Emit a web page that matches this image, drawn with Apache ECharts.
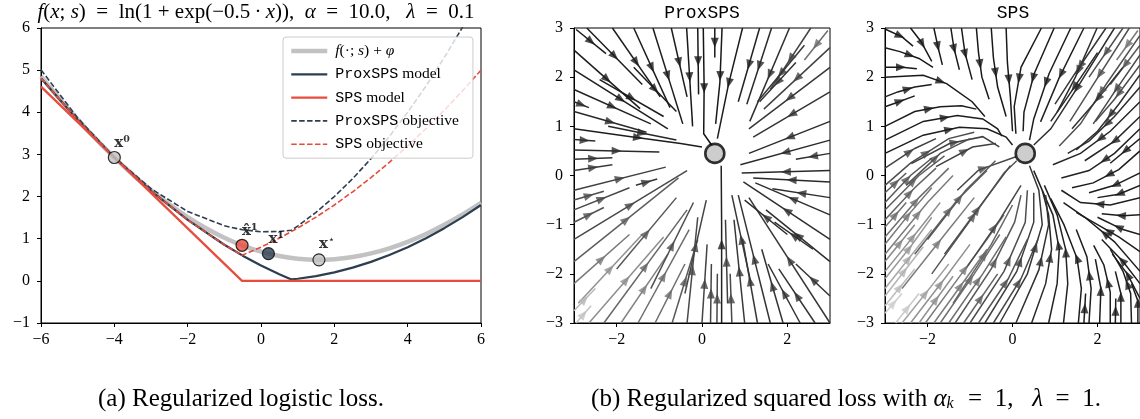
<!DOCTYPE html>
<html>
<head>
<meta charset="utf-8">
<script src="https://cdn.jsdelivr.net/npm/echarts@6/dist/echarts.min.js"></script>
<style>
html,body{margin:0;padding:0;background:#fff}
#main{width:1140px;height:419px}
</style>
</head>
<body>
<div id="main"></div>
<script>
// ---------- (a) logistic loss panel ----------
const xs = [-6,-5.5,-5,-4.5,-4,-3.5,-3,-2.5,-2,-1.5,-1,-0.5,0,0.5,1,1.5,2,2.5,3,3.5,4,4.5,5,5.5,6];
const fPhi = [4.849,4.325,3.829,3.363,2.927,2.523,2.151,1.814,1.513,1.249,1.024,0.838,0.693,0.588,0.524,0.499,0.513,0.564,0.651,0.773,0.927,1.113,1.329,1.574,1.849];

const proxX = [-6,-5,-4,-3,-2,-1,-0.5,0,0.5,0.83,1,1.5,2,2.5,3,3.5,4,4.5,5,5.5,6];
const proxModel = [4.808,3.817,2.927,2.137,1.446,0.856,0.598,0.365,0.158,0.034,0.05,0.113,0.2,0.313,0.45,0.613,0.8,1.013,1.25,1.513,1.8];
const proxObj = [5.008,3.867,2.927,2.187,1.646,1.306,1.211,1.165,1.171,1.2,1.3,1.625,2.0,2.425,2.9,3.425,4.0,4.625,5.3,6.025,6.8];

const spsX = [-6,-0.517,6];
const spsModel = [4.608,0,0];
const spsObjX = [-6,-5,-4,-3,-2,-1,-0.517,0,0.5,1,1.5,2,2.5,3,3.5,4,4.5,5,5.5,6];
const spsObj = [4.808,3.817,2.927,2.137,1.446,0.856,0.607,0.8,1.013,1.25,1.513,1.8,2.113,2.45,2.813,3.2,3.613,4.05,4.513,5.0];

const iterX = [-4,-0.517,0.202,1.58];
const iterY = [2.927,0.844,0.646,0.498];
const iterName = ['x0','xhat1','x1','xstar'];

// ---------- (b) streamlines (flow direction = point order) ----------
const fixedPoint = [0.3,0.45];

const proxLines = [
  [[-2.95,2.97],[-2.25,2.48]],
  [[-2.7,3.0],[-1.4,1.85]],
  [[-2.1,3.0],[-0.98,1.6]],
  [[-1.6,3.0],[-0.75,1.38]],
  [[-1.15,3.0],[-0.45,1.05]],
  [[-0.72,3.0],[-0.35,1.6]],
  [[-0.36,3.0],[-0.22,1.0]],
  [[-0.1,3.0],[-0.08,1.65]],
  [[0.03,3.0],[0.05,1.8],[0.04,0.85],[0.24,0.6]],
  [[0.3,3.0],[0.3,2.4]],
  [[0.47,3.0],[0.42,1.9],[0.32,1.05]],
  [[0.95,3.0],[0.62,1.85],[0.36,0.75]],
  [[1.35,3.0],[0.85,1.5]],
  [[1.63,3.0],[1.05,1.45]],
  [[2.05,3.0],[1.12,1.1]],
  [[2.55,3.0],[1.6,1.75]],
  [[2.95,2.95],[2.4,2.35]],
  [[3.0,2.6],[1.45,1.35]],
  [[3.0,2.2],[1.1,0.95]],
  [[3.0,1.7],[1.2,0.78]],
  [[3.0,1.1],[1.1,0.45]],
  [[3.0,0.72],[0.9,0.22]],
  [[3.0,0.1],[0.93,0.05]],
  [[3.0,-0.13],[1.2,-0.05]],
  [[3.0,-0.45],[1.65,-0.27]],
  [[3.0,-0.8],[1.25,-0.15]],
  [[3.0,-1.3],[0.97,-0.13]],
  [[3.0,-1.75],[1.5,-0.7]],
  [[3.0,-3.0],[1.1,-0.45]],
  [[3.0,-2.45],[2.2,-1.8]],
  [[-0.35,-3.0],[-0.1,-0.85]],
  [[0.0,-3.0],[0.12,-1.4]],
  [[0.2,-3.0],[0.22,-1.8]],
  [[0.35,-3.0],[0.36,-2.0]],
  [[0.46,-3.0],[0.46,-1.0],[0.45,0.2]],
  [[0.7,-3.0],[0.66,-2.0]],
  [[1.0,-3.0],[0.75,-0.9]],
  [[1.3,-3.0],[0.95,-1.3]],
  [[1.6,-3.0],[0.85,-0.4]],
  [[1.9,-3.0],[1.4,-1.5]],
  [[2.3,-3.0],[1.55,-1.8]],
  [[2.65,-3.0],[1.8,-1.9]],
  [[-3.0,2.55],[-1.45,1.36]],
  [[-3.0,2.15],[-0.8,0.95]],
  [[-3.0,1.75],[-1.2,1.05]],
  [[-3.0,1.5],[-2.65,1.38]],
  [[-3.0,1.3],[-1.3,0.88]],
  [[-3.0,0.95],[-1.75,0.8],[-0.5,0.65],[0.0,0.58]],
  [[-3.0,0.73],[-2.5,0.7]],
  [[-3.0,0.52],[-1.0,0.48]],
  [[-3.0,0.33],[-2.1,0.36]],
  [[-3.0,0.1],[-2.1,0.22]],
  [[-3.0,-0.3],[-0.85,0.17]],
  [[-1.55,-0.2],[-1.05,-0.07]],
  [[-3.0,-0.7],[-1.7,-0.25]],
  [[-3.0,-0.95],[-2.3,-0.65]],
  [[-3.0,-1.3],[-0.35,0.1]],
  [[-3.0,-1.75],[-0.55,-0.05]],
  [[-3.0,-2.2],[-1.7,-1.2]],
  [[-2.9,-2.6],[-1.4,-1.2]],
  [[-2.65,-3.0],[-0.9,-1.25]],
  [[-2.3,-3.0],[-0.35,-0.7]],
  [[-1.9,-3.0],[-0.8,-1.6]],
  [[-1.5,-3.0],[-0.3,-1.1]],
  [[-1.1,-3.0],[-0.4,-1.8]],
  [[-0.7,-3.0],[-0.1,-1.3]],
  [[-3.0,-2.75],[-2.5,-2.3]],
  [[-2.95,-3.0],[-2.6,-2.65]],
  [[-2.0,-1.9],[-0.6,-0.45]],
  [[-1.2,-2.3],[-0.2,-0.55]],
  [[-0.4,-2.4],[0.1,-0.5]],
  [[-3.0,-0.5],[-2.3,-0.32]],
  [[-2.2,1.0],[-0.6,0.72]],
  [[-2.4,1.95],[-0.9,1.2]],
  [[2.4,2.65],[1.3,1.5]],
  [[3.0,0.45],[2.2,0.33]],
  [[2.0,-1.2],[1.0,-0.5]],
  [[2.6,-1.5],[1.7,-0.95]],
  [[0.6,-2.6],[0.55,-0.9]],
  [[1.15,-2.2],[0.7,-0.4]],
  [[2.2,2.3],[1.35,1.5]],
  [[-1.6,2.2],[-0.6,1.3]]
];
// grey level of each line (0 black, 1 white)
const proxShade = [0.08,0.08,0.08,0.08,0.08,0.08,0.06,0.06,0.04,0.06,0.06,0.08,0.1,0.14,0.16,0.25,0.45,0.25,0.2,0.18,0.15,0.14,0.14,0.14,0.16,0.16,0.16,0.16,0.2,0.18,
  0.28,0.26,0.26,0.28,0.1,0.28,0.2,0.2,0.18,0.18,0.18,0.18,0.08,0.08,0.1,0.14,0.14,0.08,0.16,0.14,0.18,0.22,0.24,0.2,0.28,0.33,0.28,0.38,0.5,0.62,0.6,0.42,0.55,0.45,0.45,0.36,0.8,0.85,
  0.35,0.3,0.26,0.3,0.12,0.08,0.2,0.16,0.16,0.16,0.24,0.2,0.18,0.08];

const spsLines = [
  [[-3.0,2.98],[-2.6,2.82],[-2.34,2.63]],
  [[-3.0,2.6],[-2.65,2.52],[-2.2,2.38],[-1.87,2.2]],
  [[-2.4,3.0],[-2.15,2.72],[-1.9,2.32]],
  [[-1.85,3.0],[-1.75,2.6],[-1.65,2.25]],
  [[-1.45,3.0],[-1.38,2.6],[-1.25,2.15]],
  [[-1.2,3.0],[-1.12,2.5],[-0.95,1.95]],
  [[-3.0,2.2],[-2.6,2.2],[-2.25,2.17]],
  [[-3.0,2.0],[-2.1,2.04],[-1.55,1.87],[-0.95,1.5],[-0.65,1.2]],
  [[-0.85,3.0],[-0.8,2.5],[-0.72,2.0],[-0.55,1.55]],
  [[-0.5,3.0],[-0.45,2.4],[-0.35,1.8],[-0.15,1.2]],
  [[-0.15,3.0],[-0.12,2.3],[-0.05,1.6],[0.0,0.9]],
  [[-3.0,1.6],[-2.7,1.7],[-2.3,1.8],[-1.9,1.85]],
  [[-3.0,1.4],[-2.8,1.46],[-2.3,1.62]],
  [[-3.0,1.0],[-2.3,1.3],[-1.7,1.4],[-1.2,1.42],[-0.85,1.35]],
  [[-3.0,0.72],[-2.1,1.1],[-1.3,1.22],[-0.7,1.15],[-0.35,0.95],[-0.25,0.8]],
  [[-3.0,0.45],[-2.1,0.82],[-1.25,0.98],[-0.6,0.95],[-0.15,0.78],[0.0,0.62]],
  [[0.68,3.0],[0.2,2.2],[0.04,1.4],[0.08,0.85]],
  [[0.98,3.0],[0.51,2.07],[0.27,1.29],[0.25,0.9]],
  [[1.37,3.0],[0.86,2.07],[0.5,1.15],[0.4,0.72]],
  [[1.68,3.0],[1.09,1.97],[0.66,1.09]],
  [[1.99,3.0],[1.48,2.0],[1.05,1.29]],
  [[2.4,3.0],[1.5,1.75],[0.9,0.95],[0.5,0.62]],
  [[2.75,3.0],[1.9,1.85],[1.35,1.1]],
  [[3.0,2.85],[2.2,1.85],[1.6,1.05],[1.1,0.6]],
  [[3.0,2.45],[2.4,1.7],[1.9,1.05]],
  [[3.0,2.05],[2.5,1.45],[2.0,0.9],[1.5,0.52]],
  [[3.0,1.5],[2.3,0.9],[1.6,0.45],[0.95,0.22]],
  [[3.0,0.95],[2.4,0.45],[1.8,0.1],[1.15,-0.05]],
  [[3.0,0.5],[2.5,0.12],[1.9,-0.15],[1.4,-0.25]],
  [[3.0,0.05],[2.4,-0.2],[1.8,-0.35]],
  [[3.0,-0.45],[2.3,-0.6],[1.6,-0.55],[1.15,-0.3]],
  [[3.0,-0.8],[2.6,-0.82],[2.1,-0.78]],
  [[3.0,-1.2],[2.6,-1.1],[2.0,-0.85]],
  [[3.0,-1.95],[2.4,-1.35],[1.7,-0.85],[1.2,-0.55]],
  [[3.0,-2.5],[2.7,-2.0],[2.35,-1.6]],
  [[1.55,-3.0],[1.62,-2.3],[1.52,-1.69],[1.21,-1.0],[0.9,-0.47]],
  [[1.8,-3.0],[1.85,-2.3],[1.75,-1.65],[1.5,-1.1]],
  [[2.05,-3.0],[2.08,-2.3],[1.95,-1.7]],
  [[2.3,-3.0],[2.3,-2.37],[2.15,-1.82],[1.91,-1.42]],
  [[2.55,-3.0],[2.55,-2.4],[2.42,-1.95]],
  [[2.8,-3.0],[2.78,-2.4],[2.6,-1.95],[2.3,-1.5]],
  [[1.2,-3.0],[1.3,-2.2],[1.25,-1.5],[1.05,-0.8],[0.75,-0.2]],
  [[0.85,-3.0],[1.05,-2.2],[1.1,-1.5],[0.95,-0.8],[0.65,-0.2],[0.5,0.1]],
  [[0.45,-3.0],[0.78,-2.2],[0.92,-1.5],[0.85,-0.8],[0.7,-0.3]],
  [[0.08,-3.0],[0.62,-1.92],[0.85,-1.0],[0.78,-0.4]],
  [[-0.3,-3.0],[0.35,-2.0],[0.7,-1.0],[0.62,-0.3],[0.4,0.2]],
  [[-0.65,-3.0],[0.1,-1.95],[0.5,-0.95],[0.5,-0.35]],
  [[-1.0,-3.0],[-0.2,-1.95],[0.3,-0.95],[0.35,-0.3]],
  [[-1.35,-3.0],[-0.5,-1.9],[0.05,-0.95],[0.2,-0.4]],
  [[-1.7,-3.0],[-0.9,-2.0],[-0.3,-1.2]],
  [[-2.05,-3.0],[-1.2,-2.0],[-0.6,-1.3],[-0.2,-0.8]],
  [[-2.4,-3.0],[-1.6,-2.1],[-1.0,-1.4]],
  [[-2.75,-3.0],[-2.2,-2.4]],
  [[-3.0,-2.65],[-2.3,-1.9]],
  [[-3.0,-2.3],[-1.9,-1.1]],
  [[-3.0,-1.95],[-2.2,-1.1],[-1.7,-0.55]],
  [[-3.0,-1.6],[-2.0,-0.55],[-1.4,0.0]],
  [[-3.0,-1.25],[-2.2,-0.45],[-1.5,0.15]],
  [[-3.0,-0.9],[-2.3,-0.25],[-1.8,0.15]],
  [[-3.0,-0.55],[-2.4,0.0],[-1.9,0.35]],
  [[-3.0,-0.2],[-2.4,0.25],[-1.5,0.75],[-0.9,0.88]],
  [[-3.0,0.15],[-2.3,0.55],[-1.8,0.75]],
  [[-2.3,-1.6],[-1.3,-0.5],[-0.6,0.1]],
  [[-1.9,-2.0],[-0.9,-0.8],[-0.2,0.05],[0.1,0.3]],
  [[-1.3,-0.3],[-0.8,0.11],[0.08,0.38]],
  [[-1.8,0.18],[-0.94,0.58],[-0.39,0.65]],
  [[-2.38,0.24],[-1.48,0.65],[-0.7,0.79],[-0.31,0.58]],
  [[-2.6,-2.3],[-1.5,-1.1],[-0.9,-0.45]],
  [[-1.4,-2.6],[-0.5,-1.4],[0.0,-0.6]],
  [[2.95,2.95],[2.45,2.35]],
  [[2.2,3.0],[1.45,2.05],[1.0,1.45]],
  [[2.6,3.0],[1.8,2.0]],
  [[3.0,2.65],[2.3,1.85]],
  [[3.0,2.25],[2.4,1.55],[1.95,1.1]],
  [[3.0,1.8],[2.4,1.2],[1.8,0.7],[1.3,0.45]],
  [[3.0,1.2],[2.4,0.7],[1.7,0.3]],
  [[3.0,0.75],[2.3,0.25]],
  [[2.6,2.2],[1.9,1.45],[1.4,0.95]],
  [[2.0,2.5],[1.3,1.6],[0.9,1.1]],
  [[3.0,-0.2],[2.5,-0.38],[2.0,-0.45]],
  [[3.0,-1.55],[2.5,-1.25],[2.0,-1.0],[1.5,-0.75]],
  [[3.0,-2.2],[2.6,-1.75],[2.1,-1.3]],
  [[2.95,-3.0],[2.95,-2.55],[2.8,-2.2]],
  [[2.42,-3.0],[2.43,-2.5]],
  [[1.68,-3.0],[1.72,-2.4]],
  [[-2.6,-3.0],[-2.0,-2.35],[-1.5,-1.8]],
  [[-2.2,-3.0],[-1.4,-2.05]],
  [[-1.85,-3.0],[-1.1,-2.1],[-0.6,-1.5]],
  [[-1.5,-3.0],[-0.7,-2.0],[-0.15,-1.25]],
  [[-1.15,-3.0],[-0.35,-2.0]],
  [[-0.8,-3.0],[-0.1,-2.1],[0.35,-1.3]],
  [[-0.45,-3.0],[0.2,-2.1],[0.6,-1.3]],
  [[-3.0,-2.8],[-2.6,-2.4]],
  [[-3.0,-2.45],[-2.1,-1.45]],
  [[-3.0,-2.1],[-2.4,-1.45],[-1.9,-0.85]],
  [[-3.0,-1.75],[-2.3,-1.0]],
  [[-3.0,-1.4],[-2.4,-0.75],[-1.9,-0.25]],
  [[-3.0,-1.05],[-2.5,-0.55]],
  [[-3.0,-0.7],[-2.2,0.0],[-1.6,0.4]],
  [[-3.0,-0.35],[-2.5,0.05]],
  [[-2.0,-1.3],[-1.1,-0.3],[-0.4,0.3]],
  [[-1.6,-1.6],[-0.7,-0.55],[-0.05,0.2]],
  [[-1.1,-1.9],[-0.3,-0.9],[0.2,-0.2]],
  [[-2.5,-0.2],[-1.7,0.45],[-1.0,0.75]]
];
const spsShade = [0.06,0.06,0.06,0.06,0.06,0.06,0.06,0.06,0.06,0.06,0.06,0.08,0.08,0.08,0.08,0.08,0.08,0.08,0.08,0.1,0.16,0.16,0.32,0.32,0.28,0.16,0.12,0.1,0.08,0.08,
  0.08,0.08,0.08,0.08,0.08,0.08,0.08,0.08,0.08,0.08,0.08,0.1,0.1,0.14,0.17,0.2,0.24,0.3,0.35,0.45,0.52,0.62,0.88,0.82,0.72,0.62,0.52,0.46,0.4,0.35,0.3,0.25,
  0.4,0.35,0.28,0.24,0.24,0.52,0.42,0.5,
  0.2,0.3,0.35,0.3,0.16,0.12,0.08,0.18,0.14,0.08,0.08,0.08,0.08,0.08,0.08,
  0.7,0.62,0.52,0.45,0.4,0.34,0.28,0.9,0.78,0.66,0.58,0.5,0.46,0.38,0.36,0.36,0.3,0.28,0.32];

// ---------- layout ----------
const GL = {left: 41, top: 28, width: 440, height: 295};
const GM = {left: 574, top: 28, width: 256, height: 295};
const GR = {left: 885, top: 28, width: 256, height: 295};
const NAVY = '#2c3e50', RED = '#e74c3c', GREY = '#c2c2c2';
const SERIF = 'Liberation Serif', MONO = 'Liberation Mono';
const SP = '\u2002', TH = '\u2009';

const minus = v => String(v).replace('-', '\u2212');
const grey = s => { const v = Math.round(12 + s * 215); return 'rgb(' + v + ',' + v + ',' + v + ')'; };

function arrowAt(pts, sx, sy) {
  const seg = [];
  let total = 0;
  for (let k = 1; k < pts.length; k++) {
    const d = Math.hypot((pts[k][0] - pts[k-1][0]) * sx, (pts[k][1] - pts[k-1][1]) * sy);
    seg.push(d); total += d;
  }
  let half = total / 2, k = 0;
  while (k < seg.length - 1 && half > seg[k]) { half -= seg[k]; k++; }
  const t = half / seg[k];
  const a = pts[k], b = pts[k+1];
  const ang = Math.atan2((b[1] - a[1]) * sy, (b[0] - a[0]) * sx) * 180 / Math.PI;
  return {pos: [a[0] + (b[0] - a[0]) * t, a[1] + (b[1] - a[1]) * t], rot: ang - 90};
}

function streamSeries(lines, shades, gi, g) {
  const sx = g.width / 6, sy = g.height / 6;
  const lineData = lines.map((pts, i) => ({coords: pts, lineStyle: {color: grey(shades[i])}}));
  const arrows = lines.map((pts, i) => {
    const a = arrowAt(pts, sx, sy);
    return {value: a.pos, symbolRotate: a.rot, itemStyle: {color: grey(shades[i])}};
  });
  return [
    {type: 'lines', coordinateSystem: 'cartesian2d', xAxisIndex: gi, yAxisIndex: gi, polyline: true,
     silent: true, lineStyle: {width: 1.5, opacity: 1}, data: lineData, z: 2},
    {type: 'scatter', xAxisIndex: gi, yAxisIndex: gi, symbol: 'triangle', symbolSize: [8, 10],
     silent: true, data: arrows, z: 3},
    {type: 'scatter', xAxisIndex: gi, yAxisIndex: gi, symbolSize: 19, silent: true,
     itemStyle: {color: '#c0c0c0', borderColor: '#000', borderWidth: 2.6}, data: [fixedPoint], z: 5}
  ];
}

const tickFont = {fontFamily: SERIF, fontSize: 16, color: '#000'};
function xAx(gi, min, max, interval, custom) {
  const ax = {type: 'value', gridIndex: gi, min: min, max: max, splitLine: {show: false},
    axisLine: {onZero: false, lineStyle: {color: '#000', width: 1}},
    axisTick: {length: 4, lineStyle: {color: '#000'}},
    axisLabel: Object.assign({margin: 9, formatter: minus}, tickFont)};
  if (custom) { ax.axisLabel.customValues = custom; ax.axisTick.customValues = custom; }
  else ax.interval = interval;
  return ax;
}
function yAx(gi, min, max) {
  return {type: 'value', gridIndex: gi, min: min, max: max, interval: 1, splitLine: {show: false},
    axisLine: {onZero: false, lineStyle: {color: '#000', width: 1}},
    axisTick: {length: 4, lineStyle: {color: '#000'}},
    axisLabel: Object.assign({margin: 11, formatter: minus}, tickFont)};
}
const gridBox = g => Object.assign({show: true, borderColor: '#000', borderWidth: 1, containLabel: false}, g);

const legendText = {
  'obj': '{it|f}(·; {it|s}) + {it|φ}',
  'proxModel': '{tt|ProxSPS} model',
  'spsModel': '{tt|SPS} model',
  'proxObj': '{tt|ProxSPS} objective',
  'spsObj': '{tt|SPS} objective'
};
const iterLabel = {
  'x0': '{b|x⁰}',
  'xhat1': '{b|x̂¹}',
  'x1': '{b|x¹}',
  'xstar': '{b|x}{s|⋆}'
};
const iterColor = {'x0': '#c0c0c0', 'xhat1': RED, 'x1': NAVY, 'xstar': '#c0c0c0'};

const pair = (X, Y) => X.map((x, i) => [x, Y[i]]);
const dashed = [5.5, 2.4];
const legItem = (name, w) => ({name: name, itemStyle: {opacity: 0}, lineStyle: {width: w}});

const option = {
  animation: false,
  backgroundColor: '#fff',
  grid: [gridBox(GL), gridBox(GM), gridBox(GR)],
  xAxis: [xAx(0, -6, 6, 2), xAx(1, -3, 3, null, [-2, 0, 2]), xAx(2, -3, 3, null, [-2, 0, 2])],
  yAxis: [yAx(0, -1, 6), yAx(1, -3, 3), yAx(2, -3, 3)],
  legend: {
    data: [legItem('obj', 4.5), legItem('proxModel', 2.2), legItem('spsModel', 2.2), legItem('proxObj', 1.6), legItem('spsObj', 1.6)],
    orient: 'vertical', left: 283, top: 37, itemWidth: 36, itemHeight: 14, itemGap: 7.3,
    padding: [6, 14, 6, 6], backgroundColor: 'rgba(255,255,255,0.8)', borderColor: '#cccccc',
    borderWidth: 1, borderRadius: 3, z: 10,
    formatter: n => legendText[n],
    textStyle: {fontFamily: SERIF, fontSize: 15.5, lineHeight: 16, color: '#000', padding: [0, 0, 0, 3],
      rich: {it: {fontFamily: SERIF, fontStyle: 'italic', fontSize: 15.5, lineHeight: 16},
             tt: {fontFamily: MONO, fontSize: 15, lineHeight: 16}}}
  },
  graphic: [
    {type: 'text', x: 256, y: 12, style: {
      text: '{i|f}({i|x}; {i|s})' + SP + '=' + SP + 'ln(1 + exp(\u22120.5' + TH + '·' + TH + '{i|x})),' + SP + '{i|α}' + SP + '=' + SP + '10.0,' + SP + ' {i|λ}' + SP + '=' + SP + '0.1',
      align: 'center', verticalAlign: 'middle', font: '21px "Liberation Serif"', fill: '#000',
      rich: {i: {fontStyle: 'italic', fontFamily: SERIF, fontSize: 21}}}},
    {type: 'text', x: 702, y: 13, style: {text: 'ProxSPS', align: 'center', verticalAlign: 'middle',
      font: '18px "Liberation Mono"', fill: '#000'}},
    {type: 'text', x: 1013, y: 13, style: {text: 'SPS', align: 'center', verticalAlign: 'middle',
      font: '18px "Liberation Mono"', fill: '#000'}},
    {type: 'text', x: 241, y: 399, style: {text: '(a) Regularized logistic loss.', align: 'center',
      verticalAlign: 'middle', font: '25px "Liberation Serif"', fill: '#000'}},
    {type: 'text', x: 846, y: 399, style: {
      text: '(b) Regularized squared loss with {i|α}{sub|k}' + SP + '=' + SP + '1,' + SP + ' {i|λ}' + SP + '=' + SP + '1.',
      align: 'center', verticalAlign: 'middle', font: '25px "Liberation Serif"', fill: '#000',
      rich: {i: {fontStyle: 'italic', fontFamily: SERIF, fontSize: 25},
             sub: {fontStyle: 'italic', fontFamily: SERIF, fontSize: 16, padding: [10, 2, 0, 0]}}}}
  ],
  series: [
    {name: 'obj', type: 'line', xAxisIndex: 0, yAxisIndex: 0, data: pair(xs, fPhi), symbol: 'none',
     smooth: 0.2, lineStyle: {color: GREY, width: 4.5}, itemStyle: {color: GREY}, z: 2},
    {name: 'proxModel', type: 'line', xAxisIndex: 0, yAxisIndex: 0, data: pair(proxX, proxModel), symbol: 'none',
     lineStyle: {color: NAVY, width: 2.2}, itemStyle: {color: NAVY}, z: 3},
    {name: 'spsModel', type: 'line', xAxisIndex: 0, yAxisIndex: 0, data: pair(spsX, spsModel), symbol: 'none',
     lineStyle: {color: RED, width: 2.2}, itemStyle: {color: RED}, z: 3},
    {name: 'proxObj', type: 'line', xAxisIndex: 0, yAxisIndex: 0, data: pair(proxX, proxObj), symbol: 'none',
     lineStyle: {color: NAVY, width: 1.6, type: dashed}, itemStyle: {color: NAVY}, z: 4},
    {name: 'spsObj', type: 'line', xAxisIndex: 0, yAxisIndex: 0, data: pair(spsObjX, spsObj), symbol: 'none',
     lineStyle: {color: RED, width: 1.6, type: dashed}, itemStyle: {color: RED}, z: 4},
    {type: 'scatter', xAxisIndex: 0, yAxisIndex: 0, symbolSize: 12, silent: true, z: 6,
     data: iterX.map((x, i) => ({value: [x, iterY[i]], name: iterName[i],
       itemStyle: {color: iterColor[iterName[i]], borderColor: '#000', borderWidth: 1.2}})),
     label: {show: true, position: 'top', align: 'left', distance: 0, formatter: p => iterLabel[p.name],
       rich: {b: {fontFamily: 'DejaVu Serif', fontWeight: 'bold', fontSize: 15, color: '#000'},
              s: {fontFamily: 'DejaVu Serif', fontSize: 11, color: '#000', padding: [0, 0, 8, 0]}}}}
  ].concat(streamSeries(proxLines, proxShade, 1, GM), streamSeries(spsLines, spsShade, 2, GR))
};

const chart = echarts.init(document.getElementById('main'));
chart.setOption(option);
window.onresize = function () { chart.resize(); };
</script>
</body>
</html>
